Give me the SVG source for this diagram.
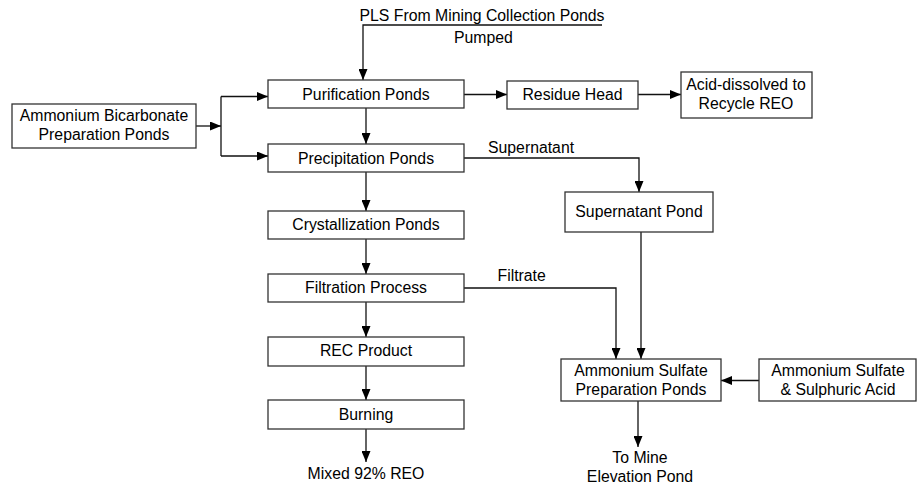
<svg xmlns="http://www.w3.org/2000/svg" width="917" height="487" viewBox="0 0 917 487">
<defs>
<marker id="ah" markerUnits="userSpaceOnUse" markerWidth="11" markerHeight="9" refX="11" refY="4.5" orient="auto">
<path d="M0,0 L11,4.5 L0,9 z" fill="#000"/>
</marker>
<style>
rect{fill:#fff;stroke:#333;stroke-width:1.3}
text{font-family:"Liberation Sans",Arial,sans-serif;font-size:15.8px;fill:#000;text-anchor:middle}
.c line,.c polyline{fill:none;stroke:#111;stroke-width:1.3}
.a{marker-end:url(#ah)}
.l{text-anchor:start}
</style>
</defs>
<rect x="0" y="0" width="917" height="487" style="fill:#fff;stroke:none"/>
<g class="c" id="connectors">
<polyline class="a" points="602,25 363,25 363,80"/>
<line class="a" x1="196" y1="126" x2="221" y2="126"/>
<polyline points="221,96.5 221,156"/>
<line class="a" x1="221" y1="96.5" x2="268" y2="96.5"/>
<line class="a" x1="221" y1="156" x2="268" y2="156"/>
<line class="a" x1="464" y1="94.5" x2="507" y2="94.5"/>
<line class="a" x1="638" y1="94.5" x2="681" y2="94.5"/>
<line class="a" x1="366" y1="108" x2="366" y2="144"/>
<line class="a" x1="366" y1="172" x2="366" y2="211"/>
<line class="a" x1="366" y1="239" x2="366" y2="274"/>
<line class="a" x1="366" y1="302" x2="366" y2="337"/>
<line class="a" x1="366" y1="366" x2="366" y2="400"/>
<line class="a" x1="366" y1="429" x2="366" y2="462"/>
<polyline class="a" points="464,158 639,158 639,192"/>
<line class="a" x1="641" y1="232" x2="641" y2="359"/>
<polyline class="a" points="464,288 616,288 616,359"/>
<line class="a" x1="759" y1="380.5" x2="721" y2="380.5"/>
<line class="a" x1="638" y1="401" x2="638" y2="447"/>
</g>
<g id="pls"><text x="482" y="21">PLS From Mining Collection Ponds</text></g>
<g id="pumped"><text class="l" x="454" y="43">Pumped</text></g>
<g id="bicarb"><rect x="12" y="104" width="184" height="44"/><text x="104" y="121">Ammonium Bicarbonate</text><text x="104" y="140">Preparation Ponds</text></g>
<g id="purification"><rect x="268" y="80" width="196" height="28"/><text x="366" y="99.5">Purification Ponds</text></g>
<g id="residue"><rect x="507" y="81" width="131" height="28"/><text x="572.5" y="100">Residue Head</text></g>
<g id="acid"><rect x="681" y="72" width="131" height="46"/><text x="746" y="90">Acid-dissolved to</text><text x="746" y="109">Recycle REO</text></g>
<g id="precipitation"><rect x="268" y="144" width="196" height="28"/><text x="366" y="163.5">Precipitation Ponds</text></g>
<g id="supernatant-label"><text class="l" x="488" y="152.5">Supernatant</text></g>
<g id="supernatant-pond"><rect x="565" y="192" width="148" height="40"/><text x="639" y="217">Supernatant Pond</text></g>
<g id="crystallization"><rect x="268" y="211" width="196" height="28"/><text x="366" y="230">Crystallization Ponds</text></g>
<g id="filtration"><rect x="268" y="274" width="196" height="28"/><text x="366" y="293">Filtration Process</text></g>
<g id="filtrate-label"><text class="l" x="497.5" y="281">Filtrate</text></g>
<g id="rec"><rect x="268" y="337" width="196" height="29"/><text x="366" y="356">REC Product</text></g>
<g id="burning"><rect x="268" y="400" width="196" height="29"/><text x="366" y="419.5">Burning</text></g>
<g id="mixed"><text x="366" y="479">Mixed 92% REO</text></g>
<g id="as-prep"><rect x="561" y="359" width="160" height="42"/><text x="641" y="376">Ammonium Sulfate</text><text x="641" y="395">Preparation Ponds</text></g>
<g id="as-acid"><rect x="759" y="359" width="157" height="42"/><text x="838" y="376">Ammonium Sulfate</text><text x="838" y="395">&amp; Sulphuric Acid</text></g>
<g id="to-mine"><text x="640" y="463">To Mine</text><text x="640" y="482">Elevation Pond</text></g>
</svg>
